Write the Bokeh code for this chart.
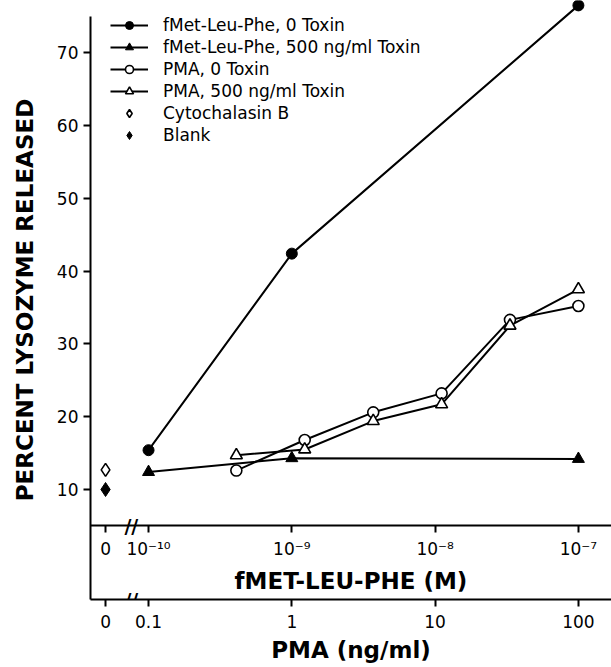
import math
from bokeh.plotting import figure
from bokeh.models import LinearAxis, FixedTicker, Range1d, Legend, LegendItem, Label
from bokeh.embed import file_html
from bokeh.resources import INLINE

# ---------------- data ----------------
fmlp_conc_M = [1e-10, 1e-9, 1e-7]
fmlp_no_toxin = [15.4, 42.4, 76.5]
fmlp_toxin = [12.4, 14.3, 14.2]

pma_conc_ng = [0.41, 1.23, 3.7, 11.1, 33.3, 100]
pma_no_toxin = [12.6, 16.8, 20.6, 23.2, 33.3, 35.2]
pma_toxin = [14.7, 15.5, 19.4, 21.7, 32.5, 37.5]

control_conc = [0]
cytochalasin_b = [12.7]
blank = [10.0]

pma_ticks = [0, 0.1, 1, 10, 100]
pma_tick_labels = ["0", "0.1", "1", "10", "100"]
fmlp_ticks = [0, 1e-10, 1e-9, 1e-8, 1e-7]
fmlp_tick_labels = ["0", "10\u207b\u00b9\u2070", "10\u207b\u2079", "10\u207b\u2078", "10\u207b\u2077"]
y_ticks = [10, 20, 30, 40, 50, 60, 70]

# ---------------- layout constants ----------------
ZERO_POS = -1.3      # where concentration 0 is drawn (left of the axis break)
BREAK_POS = -1.12    # axis break marks
FMLP_SHIFT = 9       # 1e-9 M aligns with 1 ng/ml
FMLP_AXIS_Y = 5
X_START, X_END = -1.405, 2.231
Y_START, Y_END = -5.11, 77.17
FONT = "DejaVu Sans"


def pma_x(c):
    return ZERO_POS if c == 0 else math.log10(c)


def fmlp_x(c):
    return ZERO_POS if c == 0 else math.log10(c) + FMLP_SHIFT


p = figure(width=611, height=667, output_backend="svg", toolbar_location=None,
           x_range=Range1d(X_START, X_END), y_range=Range1d(Y_START, Y_END),
           min_border_left=90, min_border_right=0, min_border_top=0,
           min_border_bottom=68)
p.outline_line_color = None
p.grid.visible = False
p.background_fill_color = "white"

# ---------------- axes ----------------
def style_axis(ax, label_size="17px"):
    ax.axis_line_width = 2
    ax.axis_line_color = "black"
    ax.major_tick_line_width = 2
    ax.major_tick_line_color = "black"
    ax.major_tick_in = 0
    ax.major_tick_out = 7
    ax.minor_tick_line_color = None
    ax.major_label_text_font = FONT
    ax.major_label_text_font_size = label_size
    ax.major_label_text_color = "black"
    ax.axis_label_text_font = FONT
    ax.axis_label_text_font_size = "23px"
    ax.axis_label_text_font_style = "bold"
    ax.axis_label_text_color = "black"

yax = p.yaxis[0]
style_axis(yax)
yax.ticker = FixedTicker(ticks=y_ticks)
yax.bounds = (Y_START, 75)
yax.axis_label = "PERCENT LYSOZYME RELEASED"
yax.major_label_standoff = 5
yax.axis_label_standoff = 16

xax = p.xaxis[0]
style_axis(xax)
pma_pos = [pma_x(c) for c in pma_ticks]
xax.ticker = FixedTicker(ticks=pma_pos)
xax.major_label_overrides = {v: t for v, t in zip(pma_pos, pma_tick_labels)}
xax.axis_label = "PMA (ng/ml)"
xax.major_label_standoff = 8
xax.axis_label_standoff = 6

fax = LinearAxis(fixed_location=FMLP_AXIS_Y)
style_axis(fax)
fmlp_pos = [fmlp_x(c) for c in fmlp_ticks]
fax.ticker = FixedTicker(ticks=fmlp_pos)
fax.major_label_overrides = {v: t for v, t in zip(fmlp_pos, fmlp_tick_labels)}
fax.axis_label = "fMET-LEU-PHE (M)"
fax.major_label_standoff = 6
fax.axis_label_standoff = 6
p.add_layout(fax, "below")

for yb in (FMLP_AXIS_Y, Y_START):
    p.add_layout(Label(x=BREAK_POS, y=yb, text="//", text_align="center",
                       text_baseline="middle", text_font=FONT,
                       text_font_size="19px", text_font_style="bold",
                       text_color="black"))

# ---------------- series ----------------
fx = [fmlp_x(c) for c in fmlp_conc_M]
px = [pma_x(c) for c in pma_conc_ng]
cx = [pma_x(c) for c in control_conc]

l1 = p.line(fx, fmlp_no_toxin, line_color="black", line_width=2)
l2 = p.line(fx, fmlp_toxin, line_color="black", line_width=2)
l3 = p.line(px, pma_no_toxin, line_color="black", line_width=2)
l4 = p.line(px, pma_toxin, line_color="black", line_width=2)

s1 = p.scatter(fx, fmlp_no_toxin, marker="circle", size=11, fill_color="black",
               line_color="black")
s2 = p.scatter(fx, fmlp_toxin, marker="triangle", size=12, fill_color="black",
               line_color="black")
s3 = p.scatter(px, pma_no_toxin, marker="circle", size=11, fill_color="white",
               line_color="black", line_width=1.6)
s4 = p.scatter(px, pma_toxin, marker="triangle", size=12, fill_color="white",
               line_color="black", line_width=1.6)
s5 = p.scatter(cx, cytochalasin_b, marker="diamond", size=13,
               fill_color="white", line_color="black", line_width=1.6)
s6 = p.scatter(cx, blank, marker="diamond", size=14,
               fill_color="black", line_color="black")

legend = Legend(items=[
    LegendItem(label="fMet-Leu-Phe, 0 Toxin", renderers=[l1, s1]),
    LegendItem(label="fMet-Leu-Phe, 500 ng/ml Toxin", renderers=[l2, s2]),
    LegendItem(label="PMA, 0 Toxin", renderers=[l3, s3]),
    LegendItem(label="PMA, 500 ng/ml Toxin", renderers=[l4, s4]),
    LegendItem(label="Cytochalasin B", renderers=[s5]),
    LegendItem(label="Blank", renderers=[s6]),
], location=(20, 454))
legend.border_line_color = None
legend.background_fill_alpha = 0
legend.padding = 0
legend.margin = 0
legend.spacing = 2
legend.glyph_width = 38
legend.glyph_height = 20
legend.label_height = 20
legend.label_standoff = 15
legend.label_text_font = FONT
legend.label_text_font_size = "17px"
legend.label_text_color = "black"
p.add_layout(legend)

open("out.html", "w").write(file_html(p, INLINE))
